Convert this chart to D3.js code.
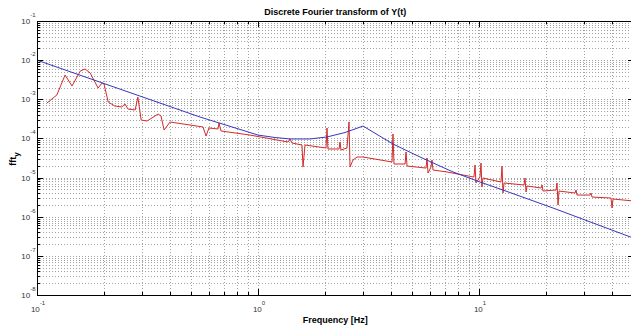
<!DOCTYPE html>
<html lang="en">
<head>
  <meta charset="UTF-8">
  <title>Discrete Fourier transform of Y(t)</title>
  <script src="https://cdn.jsdelivr.net/npm/d3@7"></script>
  <style>
    html, body {
      margin: 0;
      background-color: #ffffff;
    }
    svg {
      display: block;
      font-family: 'Liberation Sans', Arial, Helvetica, sans-serif;
    }
    .grid line {
      stroke: #a4a4a4;
      stroke-dasharray: 1,2;
      shape-rendering: crispEdges;
    }
    .grid path, .ticks path {
      display: none;
    }
    .ticks line {
      stroke: #000;
      shape-rendering: crispEdges;
    }
  </style>
</head>
<body>
  <div id="chart"></div>
  <script>
    // red: measured spectrum, spikes are kept as up/down point pairs
    const redFreq = [0.111, 0.123, 0.134, 0.144, 0.157, 0.165, 0.174, 0.189, 0.197, 0.201,
      0.210, 0.225, 0.242, 0.250, 0.258, 0.278, 0.286, 0.296, 0.315, 0.353,
      0.364, 0.376, 0.400, 0.564, 0.582, 0.600, 0.659, 0.666, 0.680, 0.920,
      1.367, 1.396, 1.425, 1.581, 1.598, 1.632, 2.031, 2.052, 2.073, 2.326,
      2.350, 2.374, 2.527, 2.581, 2.608, 2.691, 2.805, 2.987, 4.04, 4.08,
      4.125, 4.627, 4.675, 4.724, 5.757, 5.817, 5.878, 6.064, 6.127, 6.192,
      7.166, 9.49, 9.59, 9.69, 10.10, 10.21, 10.31, 10.42, 12.57, 12.71,
      12.84, 12.98, 15.98, 16.15, 16.32, 16.49, 19.08, 19.28, 19.48, 22.31,
      22.54, 22.78, 23.01, 27.19, 27.48, 27.76, 31.79, 32.12, 32.46, 39.56,
      39.98, 40.40, 50]
    const redMag = [8.03e-4, 1.29e-3, 4.17e-3, 2.18e-3, 5.28e-3, 5.94e-3, 4.69e-3, 1.94e-3, 2.61e-3, 2.46e-3,
      8.52e-4, 6.73e-4, 6.35e-4, 7.57e-4, 5.64e-4, 5.32e-4, 1.14e-3, 2.95e-4, 2.79e-4, 4.20e-4,
      3.74e-4, 1.64e-4, 2.63e-4, 1.96e-4, 1.15e-4, 1.85e-4, 1.74e-4, 2.48e-4, 1.55e-4, 1.22e-4,
      8.10e-5, 9.66e-5, 7.64e-5, 6.79e-5, 1.86e-5, 6.79e-5, 5.69e-5, 1.85e-4, 5.37e-5, 5.37e-5,
      8.10e-5, 5.06e-5, 5.69e-5, 2.63e-4, 1.86e-5, 2.81e-5, 3.35e-5, 3.35e-5, 2.50e-5, 1.30e-4,
      2.22e-5, 2.22e-5, 4.50e-5, 1.97e-5, 1.75e-5, 3.16e-5, 1.31e-5, 1.86e-5, 2.81e-5, 1.56e-5,
      1.39e-5, 1.03e-5, 2.09e-5, 7.26e-6, 1.03e-5, 2.35e-5, 5.74e-6, 9.74e-6, 7.70e-6, 1.97e-5,
      4.03e-6, 7.26e-6, 6.46e-6, 9.74e-6, 4.28e-6, 6.09e-6, 5.41e-6, 6.46e-6, 4.53e-6, 4.81e-6,
      7.26e-6, 1.99e-6, 4.53e-6, 4.03e-6, 4.81e-6, 3.58e-6, 3.58e-6, 4.03e-6, 3.18e-6, 3.00e-6,
      1.67e-6, 2.83e-6, 2.52e-6]

    // blue: envelope curve
    const blueFreq = [0.1, 0.292, 0.547, 1.0, 1.194, 1.396, 1.719, 2.052, 2.476, 2.987,
      4.08, 5.41, 7.63, 10.1, 12.84, 21.6, 48.7, 50]
    const blueMag = [1e-2, 1.21e-3, 3.52e-4, 1.22e-4, 1.055e-4, 9.7e-5, 9.7e-5, 1.09e-4, 1.416e-4, 2.07e-4,
      7.2e-5, 3.35e-5, 1.39e-5, 7.7e-6, 4.8e-6, 1.67e-6, 3.0e-7, 2.8e-7]

    // decade exponents that get a "10^n" label
    const xExponents = [-1, 0, 1]
    const yExponents = [-8, -7, -6, -5, -4, -3, -2, -1]

    const width = 631
    const height = 327
    const plotLeft = 37
    const plotTop = 21
    const plotRight = 633.5
    const plotBottom = 295

    const x = d3.scaleLog().domain([0.1, 50]).range([plotLeft, plotRight])
    const y = d3.scaleLog().domain([1e-8, 1e-1]).range([plotBottom, plotTop])

    const svg = d3.select('#chart').append('svg')
      .attr('width', width)
      .attr('height', height)

    svg.append('defs').append('clipPath')
      .attr('id', 'plot-clip')
      .append('rect')
      .attr('x', plotLeft)
      .attr('y', plotTop)
      .attr('width', plotRight - plotLeft)
      .attr('height', plotBottom - plotTop)

    const xMajor = xExponents.map(e => Math.pow(10, e))
    const yMajor = yExponents.map(e => Math.pow(10, e))
    const xMinor = x.ticks().filter(t => !xMajor.some(m => Math.abs(m - t) / m < 1e-6))
    const yMinor = y.ticks().filter(t => !yMajor.some(m => Math.abs(m - t) / m < 1e-6))

    // dotted grid
    svg.append('g')
      .attr('class', 'grid')
      .attr('transform', `translate(0,${plotBottom})`)
      .call(d3.axisBottom(x).tickValues(x.ticks()).tickSize(-(plotBottom - plotTop)).tickFormat(''))
    svg.append('g')
      .attr('class', 'grid')
      .attr('transform', `translate(${plotLeft},0)`)
      .call(d3.axisLeft(y).tickValues(y.ticks()).tickSize(-(plotRight - plotLeft)).tickFormat(''))

    const line = d3.line()
      .x(d => x(d[0]))
      .y(d => y(d[1]))

    const curves = svg.append('g').attr('clip-path', 'url(#plot-clip)')
    curves.append('path')
      .datum(d3.zip(redFreq, redMag))
      .attr('d', line)
      .attr('fill', 'none')
      .attr('stroke', '#d42a2a')
      .attr('stroke-width', 1)
    curves.append('path')
      .datum(d3.zip(blueFreq, blueMag))
      .attr('d', line)
      .attr('fill', 'none')
      .attr('stroke', '#3636c0')
      .attr('stroke-width', 1)

    // inward ticks, majors longer than minors
    const tickAxes = [
      [d3.axisBottom, x, `translate(0,${plotBottom})`],
      [d3.axisTop, x, `translate(0,${plotTop})`],
      [d3.axisLeft, y, `translate(${plotLeft},0)`],
      [d3.axisRight, y, `translate(${plotRight},0)`],
    ]
    tickAxes.forEach(([axis, scale, tr]) => {
      const isX = scale === x
      svg.append('g')
        .attr('class', 'ticks')
        .attr('transform', tr)
        .call(axis(scale).tickValues(isX ? xMajor : yMajor).tickSize(-6).tickFormat(''))
      svg.append('g')
        .attr('class', 'ticks')
        .attr('transform', tr)
        .call(axis(scale).tickValues(isX ? xMinor : yMinor).tickSize(-3).tickFormat(''))
    })

    // axes box
    svg.append('rect')
      .attr('x', plotLeft + 0.5)
      .attr('y', plotTop + 0.5)
      .attr('width', plotRight - plotLeft)
      .attr('height', plotBottom - plotTop)
      .attr('fill', 'none')
      .attr('stroke', '#000')
      .attr('shape-rendering', 'crispEdges')

    // tick labels 10^n
    const xLab = svg.append('g')
      .selectAll('text')
      .data(xExponents)
      .enter()
      .append('text')
      .attr('x', d => x(Math.pow(10, d)) + 1)
      .attr('y', 312)
      .attr('text-anchor', 'middle')
      .style('font-size', '8px')
      .style('fill', '#333')
    xLab.append('tspan').text('10')
    xLab.append('tspan').text(d => d).attr('dy', -7).style('font-size', '6px')

    const yLab = svg.append('g')
      .selectAll('text')
      .data(yExponents)
      .enter()
      .append('text')
      .attr('x', 35.5)
      .attr('y', d => y(Math.pow(10, d)) + 3)
      .attr('text-anchor', 'end')
      .style('font-size', '8px')
      .style('fill', '#333')
    yLab.append('tspan').text('10')
    yLab.append('tspan').text(d => d).attr('dy', -7).style('font-size', '6px')

    svg.append('text')
      .text('Discrete Fourier transform of Y(t)')
      .attr('x', (plotLeft + plotRight) / 2)
      .attr('y', 15)
      .attr('text-anchor', 'middle')
      .style('font-size', '9px')
      .style('font-weight', 'bold')

    svg.append('text')
      .text('Frequency [Hz]')
      .attr('x', (plotLeft + plotRight) / 2)
      .attr('y', 323)
      .attr('text-anchor', 'middle')
      .style('font-size', '9px')
      .style('font-weight', 'bold')

    const yTitle = svg.append('text')
      .attr('transform', 'translate(16,159) rotate(-90)')
      .attr('text-anchor', 'middle')
      .style('font-size', '9px')
      .style('font-weight', 'bold')
    yTitle.append('tspan').text('fft')
    yTitle.append('tspan').text('y').attr('dy', 3).style('font-size', '8px')
  </script>
</body>
</html>
